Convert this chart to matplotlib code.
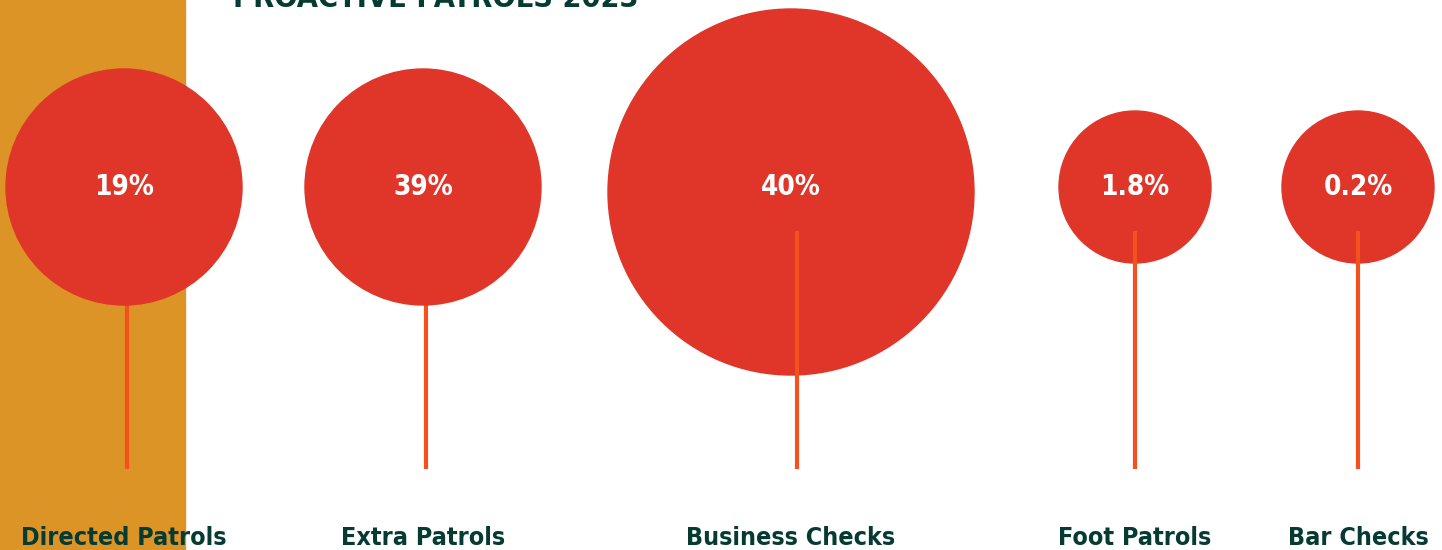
import matplotlib
matplotlib.use("Agg")
import matplotlib.pyplot as plt
from matplotlib.patches import Circle, Rectangle

# данные
categories = ["Directed Patrols", "Extra Patrols", "Business Checks", "Foot Patrols", "Bar Checks"]
shares = [19, 39, 40, 1.8, 0.2]
share_labels = ["19%", "39%", "40%", "1.8%", "0.2%"]
title = "PROACTIVE PATROLS 2023"

# оформление (пиксели)
xpos = [124, 423, 791, 1135, 1358]
ypos = [187, 187, 192, 187, 187]
radius = [118, 118, 183, 76, 76]
stem_x = [127, 426, 797, 1135, 1358]
label_y = 187
stem_top = 231
stem_bottom = 469
stem_on_top = [False, False, True, True, True]

RED = "#DF3629"
STEM = "#F4511E"
GREEN = "#063B33"
GOLD = "#DD9426"

font = "DejaVu Sans"

W, H = 1442, 550
fig = plt.figure(figsize=(W / 100, H / 100), dpi=100)
ax = fig.add_axes([0, 0, 1, 1])
ax.set_xlim(0, W)
ax.set_ylim(H, 0)
ax.axis("off")

ax.add_patch(Rectangle((0, 0), 185, H, color=GOLD, zorder=0))

for i, cat in enumerate(categories):
    ax.add_patch(Circle((xpos[i], ypos[i]), radius[i], color=RED, zorder=2))
    ax.plot([stem_x[i], stem_x[i]], [stem_top, stem_bottom], color=STEM, lw=3,
            solid_capstyle="butt", zorder=3 if stem_on_top[i] else 1)
    ax.text(xpos[i], label_y, share_labels[i], color="white", fontsize=20,
            fontweight="bold", family=font, fontstretch="condensed",
            ha="center", va="center", zorder=4)
    ax.text(xpos[i], 545, cat, color=GREEN, fontsize=18, fontweight="bold",
            family=font, fontstretch="condensed", ha="center", va="baseline", zorder=4)

fig.text(233 / W, 1 - 7 / H, title, color=GREEN, fontsize=22, fontweight="bold",
         family=font, fontstretch="condensed", ha="left", va="baseline")

fig.savefig("out.png", dpi=100)
